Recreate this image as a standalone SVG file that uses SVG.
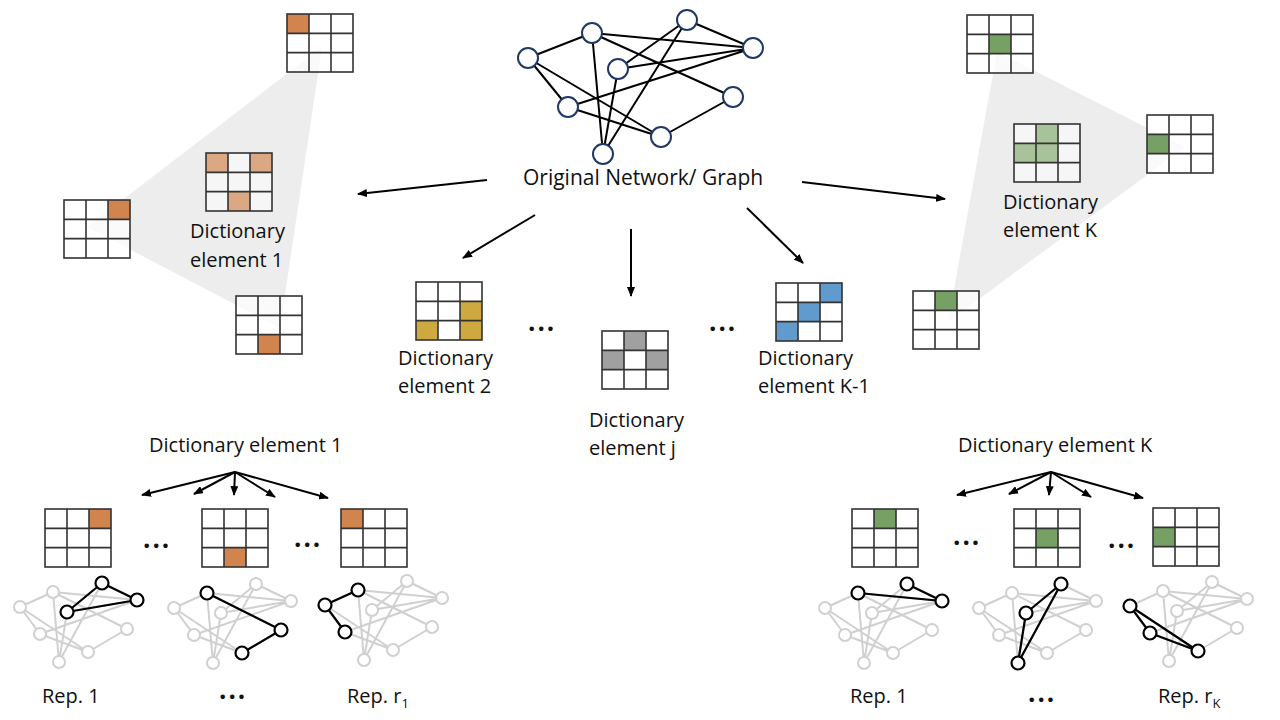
<svg xmlns="http://www.w3.org/2000/svg" xmlns:xlink="http://www.w3.org/1999/xlink" width="1280" height="720" viewBox="0 0 1280 720">
<style>
text{font-family:"Open Sans","Noto Sans","Liberation Sans",sans-serif;font-size:20px;fill:#111}
.dots{font-weight:bold;font-size:26px;letter-spacing:2px}
.title{font-size:21px}
.gl{fill:none;stroke:#333;stroke-width:1.6}
.bg{fill:#fff}
.cl .bg{fill:#fff;fill-opacity:0.7}
.cbg{fill:#f6f6f6}
.o{fill:#d2844e}.ol{fill:#dba883}.y{fill:#cda93f}.g{fill:#a0a0a0}.b{fill:#619acd}.gr{fill:#76a064}.grl{fill:#a8c39a}
.tri{fill:#ededed}
.me{stroke:#000;stroke-width:2;fill:none}
.mn{fill:#fff;stroke:#1f3864;stroke-width:2}
.ge{stroke:#d0d0d0;stroke-width:2;fill:none}
.gn{fill:#fff;stroke:#d0d0d0;stroke-width:2}
.he{stroke:#000;stroke-width:2.2;fill:none}
.hn{fill:#fff;stroke:#000;stroke-width:2.2}
.arr{stroke:#000;stroke-width:2;fill:none;marker-end:url(#ah)}
</style>
<defs>
<marker id="ah" viewBox="0 0 10 8" refX="9" refY="4" markerWidth="10" markerHeight="8" orient="auto" markerUnits="userSpaceOnUse"><path d="M0,0 L10,4 L0,8 z" fill="#000"/></marker>
<g id="gl"><rect class="gl" width="66" height="58"/><path class="gl" d="M22,0V58M44,0V58M0,19.33H66M0,38.67H66"/></g>
<g id="mini">
<path class="ge" d="M20,607L53,592M20,607L40,634M20,607L88,652M53,592L59,662M53,592L137,600M53,592L127,629M102,583L137,600M102,583L67,612M102,583L59,662M67,612L137,600M67,612L59,662M40,634L137,600M40,634L88,652M88,652L127,629"/>
<circle class="gn" cx="20" cy="607" r="6"/><circle class="gn" cx="53" cy="592" r="6"/><circle class="gn" cx="102" cy="583" r="6"/><circle class="gn" cx="137" cy="600" r="6"/><circle class="gn" cx="67" cy="612" r="6"/><circle class="gn" cx="40" cy="634" r="6"/><circle class="gn" cx="127" cy="629" r="6"/><circle class="gn" cx="88" cy="652" r="6"/><circle class="gn" cx="59" cy="662" r="6"/>
</g>
</defs>
<rect width="1280" height="720" fill="#fff"/>

<!-- Original graph -->
<g id="original-graph">
<path class="me" d="M528,58L592,33M528,58L568,107M528,58L661,137M592,33L603,154M592,33L753,48M592,33L733,97M687,20L753,48M687,20L618,69M687,20L603,154M618,69L753,48M618,69L603,154M568,107L753,48M568,107L661,137M661,137L733,97"/>
<circle class="mn" cx="528" cy="58" r="10"/><circle class="mn" cx="592" cy="33" r="10"/><circle class="mn" cx="687" cy="20" r="10"/><circle class="mn" cx="753" cy="48" r="10"/><circle class="mn" cx="618" cy="69" r="10"/><circle class="mn" cx="568" cy="107" r="10"/><circle class="mn" cx="733" cy="97" r="10"/><circle class="mn" cx="661" cy="137" r="10"/><circle class="mn" cx="603" cy="154" r="10"/>
<text class="title" x="523" y="185">Original Network/ Graph</text>
</g>

<!-- Dictionary element 1 cluster -->
<g id="dict1" class="cl">
<polygon class="tri" points="322,47 87,227 280,328"/>
<g transform="translate(287,14)"><rect class="bg" width="66" height="58"/><rect class="o" x="0" y="0" width="22" height="19.33"/><use href="#gl"/></g>
<g transform="translate(64,200)"><rect class="bg" width="66" height="58"/><rect class="o" x="44" y="0" width="22" height="19.33"/><use href="#gl"/></g>
<g transform="translate(236,296)"><rect class="bg" width="66" height="58"/><rect class="o" x="22" y="38.67" width="22" height="19.33"/><use href="#gl"/></g>
<g transform="translate(206,153)"><rect class="cbg" width="66" height="58"/><rect class="ol" x="0" y="0" width="22" height="19.33"/><rect class="ol" x="44" y="0" width="22" height="19.33"/><rect class="ol" x="22" y="38.67" width="22" height="19.33"/><use href="#gl"/></g>
<text x="190" y="238">Dictionary</text><text x="190" y="267">element 1</text>
</g>

<!-- Dictionary element K cluster -->
<g id="dictK" class="cl">
<polygon class="tri" points="997,52 1185,147 948,322"/>
<g transform="translate(967,15)"><rect class="bg" width="66" height="58"/><rect class="gr" x="22" y="19.33" width="22" height="19.33"/><use href="#gl"/></g>
<g transform="translate(1147,115)"><rect class="bg" width="66" height="58"/><rect class="gr" x="0" y="19.33" width="22" height="19.33"/><use href="#gl"/></g>
<g transform="translate(913,291)"><rect class="bg" width="66" height="58"/><rect class="gr" x="22" y="0" width="22" height="19.33"/><use href="#gl"/></g>
<g transform="translate(1014,124)"><rect class="cbg" width="66" height="58"/><rect class="grl" x="22" y="0" width="22" height="19.33"/><rect class="grl" x="0" y="19.33" width="22" height="19.33"/><rect class="grl" x="22" y="19.33" width="22" height="19.33"/><use href="#gl"/></g>
<text x="1003" y="209">Dictionary</text><text x="1003" y="237">element K</text>
</g>

<!-- Dictionary element 2 -->
<g id="dict2">
<g transform="translate(416,282)"><rect class="bg" width="66" height="58"/><rect class="y" x="44" y="19.33" width="22" height="19.33"/><rect class="y" x="0" y="38.67" width="22" height="19.33"/><rect class="y" x="44" y="38.67" width="22" height="19.33"/><use href="#gl"/></g>
<text x="398" y="365">Dictionary</text><text x="398" y="393">element 2</text>
</g>
<!-- Dictionary element j -->
<g id="dictj">
<g transform="translate(602,331)"><rect class="bg" width="66" height="58"/><rect class="g" x="22" y="0" width="22" height="19.33"/><rect class="g" x="0" y="19.33" width="22" height="19.33"/><rect class="g" x="44" y="19.33" width="22" height="19.33"/><use href="#gl"/></g>
<text x="589" y="427">Dictionary</text><text x="589" y="455">element j</text>
</g>
<!-- Dictionary element K-1 -->
<g id="dictK1">
<g transform="translate(776,283)"><rect class="bg" width="66" height="58"/><rect class="b" x="44" y="0" width="22" height="19.33"/><rect class="b" x="22" y="19.33" width="22" height="19.33"/><rect class="b" x="0" y="38.67" width="22" height="19.33"/><use href="#gl"/></g>
<text x="758" y="365">Dictionary</text><text x="758" y="393">element K-1</text>
</g>
<g id="mid-dots">
<text class="dots" x="528" y="331">...</text>
<text class="dots" x="709" y="331">...</text>
</g>

<!-- Bottom left: representatives of element 1 -->
<g id="reps1">
<text x="149" y="452">Dictionary element 1</text>
<g transform="translate(45,509)"><rect class="bg" width="66" height="58"/><rect class="o" x="44" y="0" width="22" height="19.33"/><use href="#gl"/></g>
<g transform="translate(202,509)"><rect class="bg" width="66" height="58"/><rect class="o" x="22" y="38.67" width="22" height="19.33"/><use href="#gl"/></g>
<g transform="translate(341,509)"><rect class="bg" width="66" height="58"/><rect class="o" x="0" y="0" width="22" height="19.33"/><use href="#gl"/></g>
<text class="dots" x="143" y="548">...</text>
<text class="dots" x="294" y="547">...</text>
<g transform="translate(0,0)"><use href="#mini"/><path class="he" d="M102,583L137,600M102,583L67,612M67,612L137,600"/><circle class="hn" cx="102" cy="583" r="6.5"/><circle class="hn" cx="137" cy="600" r="6.5"/><circle class="hn" cx="67" cy="612" r="6.5"/></g>
<g transform="translate(154,1)"><use href="#mini"/><path class="he" d="M53,592L127,629M127,629L88,652"/><circle class="hn" cx="53" cy="592" r="6.5"/><circle class="hn" cx="127" cy="629" r="6.5"/><circle class="hn" cx="88" cy="652" r="6.5"/></g>
<g transform="translate(305,-2)"><use href="#mini"/><path class="he" d="M20,607L53,592M20,607L40,634"/><circle class="hn" cx="20" cy="607" r="6.5"/><circle class="hn" cx="53" cy="592" r="6.5"/><circle class="hn" cx="40" cy="634" r="6.5"/></g>
<text x="42" y="703">Rep. 1</text>
<text class="dots" x="219" y="699">...</text>
<text x="347" y="703">Rep. r<tspan font-size="13" dy="5">1</tspan></text>
</g>

<!-- Bottom right: representatives of element K -->
<g id="repsK">
<text x="958" y="452">Dictionary element K</text>
<g transform="translate(852,509)"><rect class="bg" width="66" height="58"/><rect class="gr" x="22" y="0" width="22" height="19.33"/><use href="#gl"/></g>
<g transform="translate(1014,509)"><rect class="bg" width="66" height="58"/><rect class="gr" x="22" y="19.33" width="22" height="19.33"/><use href="#gl"/></g>
<g transform="translate(1153,508)"><rect class="bg" width="66" height="58"/><rect class="gr" x="0" y="19.33" width="22" height="19.33"/><use href="#gl"/></g>
<text class="dots" x="953" y="545">...</text>
<text class="dots" x="1108" y="548">...</text>
<g transform="translate(805,1)"><use href="#mini"/><path class="he" d="M53,592L137,600M102,583L137,600"/><circle class="hn" cx="53" cy="592" r="6.5"/><circle class="hn" cx="102" cy="583" r="6.5"/><circle class="hn" cx="137" cy="600" r="6.5"/></g>
<g transform="translate(959,1)"><use href="#mini"/><path class="he" d="M102,583L67,612M102,583L59,662M67,612L59,662"/><circle class="hn" cx="102" cy="583" r="6.5"/><circle class="hn" cx="67" cy="612" r="6.5"/><circle class="hn" cx="59" cy="662" r="6.5"/></g>
<g transform="translate(1110,-1)"><use href="#mini"/><path class="he" d="M20,607L40,634M20,607L88,652M40,634L88,652"/><circle class="hn" cx="20" cy="607" r="6.5"/><circle class="hn" cx="40" cy="634" r="6.5"/><circle class="hn" cx="88" cy="652" r="6.5"/></g>
<text x="850" y="703">Rep. 1</text>
<text class="dots" x="1028" y="702">...</text>
<text x="1158" y="703">Rep. r<tspan font-size="13" dy="5">K</tspan></text>
</g>

<!-- Connectors -->
<g id="connectors">
<line class="arr" x1="487" y1="180" x2="358" y2="194"/>
<line class="arr" x1="802" y1="182" x2="945" y2="199"/>
<line class="arr" x1="535" y1="215" x2="463" y2="258"/>
<line class="arr" x1="631" y1="229" x2="631" y2="296"/>
<line class="arr" x1="747" y1="208" x2="803" y2="263"/>
<line class="arr" x1="235" y1="472" x2="142" y2="495"/>
<line class="arr" x1="235" y1="472" x2="194" y2="494"/>
<line class="arr" x1="235" y1="472" x2="234" y2="495"/>
<line class="arr" x1="235" y1="472" x2="275" y2="497"/>
<line class="arr" x1="235" y1="472" x2="328" y2="498"/>
<line class="arr" x1="1051" y1="472" x2="957" y2="495"/>
<line class="arr" x1="1051" y1="472" x2="1009" y2="494"/>
<line class="arr" x1="1051" y1="472" x2="1049" y2="495"/>
<line class="arr" x1="1051" y1="472" x2="1091" y2="497"/>
<line class="arr" x1="1051" y1="472" x2="1143" y2="498"/>
</g>
</svg>
